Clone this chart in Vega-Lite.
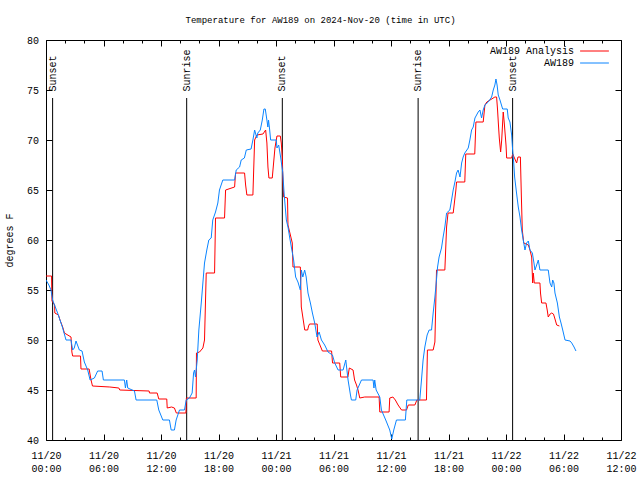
{
  "$schema": "https://vega.github.io/schema/vega-lite/v6.json",
  "width": 575,
  "height": 400,
  "autosize": {"type": "none"},
  "padding": {"left": 46, "top": 40, "right": 19, "bottom": 40},
  "title": {"text": "Temperature for AW189 on 2024-Nov-20 (time in UTC)", "fontSize": 9, "fontWeight": "normal", "font": "Liberation Mono", "color": "black", "offset": 10, "dx": -13},
  "config": {
    "view": {"stroke": "black", "strokeWidth": 1},
    "font": "Liberation Mono",
    "axis": {"domain": false, "labelFont": "Liberation Mono", "labelFontSize": 10, "labelColor": "black", "tickColor": "black", "titleFont": "Liberation Mono", "titleFontSize": 10, "titleFontWeight": "normal", "titleColor": "black", "grid": false}
  },
  "datasets": {
    "events": [
      {"h": 0.69, "label": "Sunset"},
      {"h": 14.68, "label": "Sunrise"},
      {"h": 24.66, "label": "Sunset"},
      {"h": 38.83, "label": "Sunrise"},
      {"h": 48.69, "label": "Sunset"}
    ],
    "analysis": [
      {"h":0,"t":56.4},{"h":0.58,"t":56.4},{"h":0.62,"t":53.9},{"h":0.9,"t":53.5},{"h":0.92,"t":52.7},{"h":1.3,"t":52.5},{"h":1.46,"t":52.0},{"h":1.74,"t":51.3},{"h":1.92,"t":50.7},{"h":2.61,"t":50.3},{"h":2.7,"t":48.8},{"h":2.78,"t":48.4},{"h":3.6,"t":48.4},{"h":3.65,"t":47.1},{"h":4.5,"t":47.1},{"h":4.7,"t":46.0},{"h":4.85,"t":45.4},{"h":6.66,"t":45.3},{"h":7.6,"t":45.2},{"h":7.7,"t":45.0},{"h":10.76,"t":44.9},{"h":10.8,"t":44.7},{"h":11.6,"t":44.7},{"h":11.77,"t":44.1},{"h":12.6,"t":44.1},{"h":12.65,"t":43.2},{"h":13.1,"t":43.3},{"h":13.4,"t":43.2},{"h":13.6,"t":42.7},{"h":14.6,"t":42.7},{"h":14.65,"t":44.2},{"h":15.67,"t":44.2},{"h":15.7,"t":48.7},{"h":16.02,"t":48.8},{"h":16.37,"t":49.2},{"h":16.54,"t":50.0},{"h":16.72,"t":56.7},{"h":17.59,"t":56.7},{"h":17.69,"t":62.2},{"h":18.63,"t":62.2},{"h":18.74,"t":65.0},{"h":19.68,"t":65.3},{"h":19.78,"t":66.7},{"h":20.72,"t":66.7},{"h":20.83,"t":65.5},{"h":20.96,"t":64.5},{"h":21.59,"t":64.5},{"h":21.77,"t":70.0},{"h":22.0,"t":70.5},{"h":22.64,"t":70.6},{"h":22.92,"t":71.0},{"h":23.05,"t":69.7},{"h":23.16,"t":67.3},{"h":23.26,"t":66.2},{"h":23.61,"t":66.2},{"h":23.75,"t":67.7},{"h":23.89,"t":69.2},{"h":24.1,"t":70.4},{"h":24.45,"t":70.4},{"h":24.55,"t":69.7},{"h":24.66,"t":68.3},{"h":24.73,"t":65.7},{"h":24.8,"t":64.3},{"h":25.2,"t":64.2},{"h":25.25,"t":61.5},{"h":25.5,"t":60.5},{"h":25.7,"t":59.7},{"h":25.77,"t":57.3},{"h":26.54,"t":57.3},{"h":26.64,"t":53.3},{"h":27.0,"t":51.0},{"h":27.3,"t":51.0},{"h":27.4,"t":51.4},{"h":27.5,"t":51.6},{"h":28.3,"t":51.6},{"h":28.37,"t":50.0},{"h":28.84,"t":48.9},{"h":29.8,"t":48.9},{"h":29.9,"t":47.7},{"h":30.65,"t":47.7},{"h":30.75,"t":46.3},{"h":31.5,"t":46.3},{"h":31.65,"t":47.2},{"h":32.04,"t":47.0},{"h":32.2,"t":46.0},{"h":32.4,"t":45.5},{"h":32.56,"t":45.0},{"h":32.74,"t":44.2},{"h":33.26,"t":44.3},{"h":34.76,"t":44.3},{"h":34.83,"t":42.8},{"h":35.8,"t":42.8},{"h":35.87,"t":44.2},{"h":36.2,"t":44.3},{"h":36.45,"t":44.0},{"h":36.74,"t":43.5},{"h":37.1,"t":43.0},{"h":37.62,"t":43.0},{"h":37.8,"t":43.5},{"h":38.49,"t":43.5},{"h":38.7,"t":44.0},{"h":39.7,"t":44.0},{"h":39.8,"t":49.0},{"h":40.4,"t":49.0},{"h":40.58,"t":49.8},{"h":40.75,"t":57.0},{"h":41.62,"t":57.0},{"h":41.8,"t":61.3},{"h":41.95,"t":62.7},{"h":42.49,"t":62.7},{"h":42.77,"t":65.0},{"h":42.84,"t":65.8},{"h":43.7,"t":65.8},{"h":43.8,"t":68.6},{"h":44.74,"t":68.6},{"h":44.86,"t":71.8},{"h":45.62,"t":71.8},{"h":45.8,"t":73.5},{"h":46.0,"t":73.8},{"h":46.84,"t":74.3},{"h":47.02,"t":74.3},{"h":47.12,"t":73.0},{"h":47.2,"t":71.7},{"h":47.3,"t":70.2},{"h":47.44,"t":68.8},{"h":47.55,"t":70.0},{"h":47.71,"t":72.8},{"h":47.82,"t":71.7},{"h":48.0,"t":69.5},{"h":48.07,"t":68.2},{"h":48.59,"t":68.2},{"h":48.7,"t":68.6},{"h":49.11,"t":67.7},{"h":49.25,"t":68.3},{"h":49.5,"t":68.3},{"h":49.6,"t":64.5},{"h":49.7,"t":61.0},{"h":49.85,"t":59.7},{"h":50.33,"t":59.5},{"h":50.5,"t":59.0},{"h":50.68,"t":58.3},{"h":50.78,"t":55.7},{"h":50.85,"t":56.7},{"h":50.95,"t":55.7},{"h":51.54,"t":55.7},{"h":51.6,"t":54.7},{"h":51.72,"t":53.7},{"h":52.17,"t":53.7},{"h":52.3,"t":53.0},{"h":52.41,"t":52.3},{"h":52.6,"t":52.6},{"h":52.77,"t":52.7},{"h":52.95,"t":52.6},{"h":53.05,"t":52.3},{"h":53.29,"t":51.5},{"h":53.57,"t":51.4}
    ],
    "obs": [
      {"h":0,"t":56.0},{"h":0.3,"t":55.5},{"h":0.52,"t":55.0},{"h":0.69,"t":54.0},{"h":0.97,"t":53.3},{"h":1.21,"t":52.7},{"h":1.46,"t":52.0},{"h":1.74,"t":51.2},{"h":2.09,"t":50.0},{"h":2.61,"t":50.0},{"h":2.78,"t":49.0},{"h":2.95,"t":49.2},{"h":3.13,"t":49.9},{"h":3.48,"t":49.0},{"h":3.76,"t":48.9},{"h":4.0,"t":47.8},{"h":4.35,"t":47.0},{"h":4.6,"t":46.0},{"h":5.05,"t":46.2},{"h":5.39,"t":46.9},{"h":5.85,"t":46.9},{"h":5.99,"t":46.0},{"h":8.18,"t":46.0},{"h":8.29,"t":45.2},{"h":8.42,"t":46.0},{"h":8.53,"t":45.2},{"h":9.23,"t":44.9},{"h":9.4,"t":44.0},{"h":11.56,"t":44.0},{"h":11.77,"t":43.0},{"h":12.19,"t":42.0},{"h":12.88,"t":42.0},{"h":13.06,"t":41.0},{"h":13.4,"t":41.0},{"h":13.58,"t":42.0},{"h":13.93,"t":43.0},{"h":14.45,"t":43.0},{"h":14.63,"t":44.0},{"h":14.97,"t":44.2},{"h":15.25,"t":44.7},{"h":15.4,"t":46.7},{"h":15.5,"t":47.0},{"h":15.6,"t":46.3},{"h":15.78,"t":48.0},{"h":15.95,"t":51.0},{"h":16.2,"t":53.7},{"h":16.37,"t":55.7},{"h":16.54,"t":57.7},{"h":16.78,"t":59.0},{"h":16.99,"t":60.0},{"h":17.24,"t":60.2},{"h":17.4,"t":62.0},{"h":17.69,"t":62.8},{"h":17.93,"t":63.7},{"h":18.1,"t":65.0},{"h":18.45,"t":66.0},{"h":19.68,"t":66.0},{"h":19.85,"t":67.0},{"h":20.2,"t":67.3},{"h":20.37,"t":68.0},{"h":20.7,"t":68.2},{"h":20.9,"t":69.0},{"h":21.4,"t":69.1},{"h":21.59,"t":70.0},{"h":21.77,"t":71.0},{"h":22.0,"t":70.2},{"h":22.1,"t":70.7},{"h":22.36,"t":71.0},{"h":22.57,"t":72.0},{"h":22.74,"t":73.1},{"h":22.88,"t":73.1},{"h":23.05,"t":72.0},{"h":23.15,"t":71.3},{"h":23.22,"t":72.0},{"h":23.33,"t":71.1},{"h":23.44,"t":70.0},{"h":24.03,"t":70.0},{"h":24.1,"t":69.2},{"h":24.28,"t":69.5},{"h":24.48,"t":68.3},{"h":24.7,"t":66.8},{"h":24.85,"t":64.6},{"h":25.08,"t":62.0},{"h":25.25,"t":61.3},{"h":25.42,"t":60.3},{"h":25.6,"t":59.3},{"h":25.84,"t":58.0},{"h":26.05,"t":56.3},{"h":26.29,"t":55.8},{"h":26.54,"t":55.0},{"h":26.64,"t":57.0},{"h":26.8,"t":56.3},{"h":26.99,"t":57.0},{"h":27.15,"t":56.3},{"h":27.34,"t":54.7},{"h":27.59,"t":53.7},{"h":27.8,"t":52.7},{"h":28.04,"t":51.7},{"h":28.28,"t":50.3},{"h":28.5,"t":50.8},{"h":28.74,"t":50.0},{"h":29.08,"t":49.5},{"h":29.43,"t":48.8},{"h":29.89,"t":48.5},{"h":30.13,"t":47.7},{"h":30.48,"t":47.0},{"h":31.0,"t":47.0},{"h":31.28,"t":48.0},{"h":31.52,"t":46.0},{"h":31.77,"t":44.5},{"h":31.87,"t":44.0},{"h":32.32,"t":44.0},{"h":32.46,"t":45.0},{"h":32.92,"t":46.0},{"h":34.13,"t":46.0},{"h":34.22,"t":45.2},{"h":34.3,"t":46.0},{"h":34.45,"t":45.0},{"h":34.83,"t":44.3},{"h":35.0,"t":43.0},{"h":35.45,"t":42.0},{"h":35.87,"t":41.0},{"h":36.08,"t":40.1},{"h":36.29,"t":41.0},{"h":36.57,"t":42.0},{"h":37.5,"t":42.0},{"h":37.65,"t":44.0},{"h":39.0,"t":44.0},{"h":39.18,"t":46.0},{"h":39.35,"t":48.0},{"h":39.53,"t":49.3},{"h":39.77,"t":50.5},{"h":39.98,"t":51.0},{"h":40.23,"t":51.0},{"h":40.4,"t":52.7},{"h":40.58,"t":54.3},{"h":40.68,"t":55.3},{"h":40.86,"t":57.3},{"h":41.02,"t":58.3},{"h":41.27,"t":59.2},{"h":41.44,"t":60.3},{"h":41.62,"t":61.3},{"h":41.8,"t":62.7},{"h":42.14,"t":63.0},{"h":42.32,"t":64.0},{"h":42.49,"t":65.0},{"h":42.67,"t":65.8},{"h":42.84,"t":66.7},{"h":43.0,"t":67.0},{"h":43.2,"t":66.3},{"h":43.37,"t":67.7},{"h":43.53,"t":68.3},{"h":43.7,"t":68.7},{"h":44.06,"t":69.2},{"h":44.23,"t":70.0},{"h":44.41,"t":71.0},{"h":44.58,"t":71.3},{"h":44.76,"t":72.2},{"h":45.1,"t":72.8},{"h":45.28,"t":73.0},{"h":45.45,"t":72.2},{"h":45.62,"t":73.0},{"h":45.8,"t":73.5},{"h":46.15,"t":73.8},{"h":46.5,"t":74.3},{"h":46.67,"t":75.0},{"h":46.84,"t":75.5},{"h":46.95,"t":76.1},{"h":47.07,"t":75.5},{"h":47.19,"t":74.5},{"h":47.37,"t":74.0},{"h":47.65,"t":73.1},{"h":48.13,"t":73.1},{"h":48.23,"t":72.2},{"h":48.41,"t":71.8},{"h":48.59,"t":70.5},{"h":48.69,"t":69.0},{"h":48.8,"t":67.8},{"h":48.9,"t":66.3},{"h":49.1,"t":64.7},{"h":49.28,"t":63.3},{"h":49.46,"t":62.3},{"h":49.63,"t":61.0},{"h":49.8,"t":60.0},{"h":49.98,"t":59.0},{"h":50.15,"t":59.7},{"h":50.33,"t":59.9},{"h":50.5,"t":59.0},{"h":50.75,"t":58.7},{"h":50.92,"t":57.7},{"h":51.02,"t":57.0},{"h":51.2,"t":57.5},{"h":51.37,"t":58.0},{"h":51.54,"t":57.0},{"h":52.41,"t":57.0},{"h":52.59,"t":55.7},{"h":52.77,"t":55.3},{"h":52.87,"t":56.0},{"h":53.0,"t":55.7},{"h":53.11,"t":54.7},{"h":53.36,"t":53.7},{"h":53.57,"t":52.3},{"h":53.74,"t":51.7},{"h":53.92,"t":51.0},{"h":54.16,"t":50.0},{"h":54.68,"t":49.9},{"h":54.86,"t":49.7},{"h":55.1,"t":49.3},{"h":55.3,"t":48.9}
    ]
  },
  "layer": [
    {
      "data": {"name": "events"},
      "mark": {"type": "rule", "color": "black", "strokeWidth": 1},
      "encoding": {
        "x": {"field": "h", "type": "quantitative", "axis": null},
        "y": {"datum": 74.2, "type": "quantitative", "axis": null},
        "y2": {"datum": 40}
      }
    },
    {
      "data": {"name": "events"},
      "mark": {"type": "text", "angle": 270, "align": "left", "baseline": "middle", "fontSize": 10, "font": "Liberation Mono", "color": "black"},
      "encoding": {
        "x": {"field": "h", "type": "quantitative", "axis": null},
        "y": {"datum": 74.85, "type": "quantitative", "axis": null},
        "text": {"field": "label"}
      }
    },
    {
      "data": {"name": "analysis"},
      "mark": {"type": "line", "strokeWidth": 1, "clip": true},
      "encoding": {
        "x": {"field": "h", "type": "quantitative", "scale": {"domain": [0, 60], "nice": false, "zero": false},
          "axis": {"orient": "bottom", "title": null, "values": [0,2,4,6,8,10,12,14,16,18,20,22,24,26,28,30,32,34,36,38,40,42,44,46,48,50,52,54,56,58,60],
            "tickSize": {"expr": "datum.value % 6 === 0 ? -6 : -3"}, "labelPadding": 16, "labelLineHeight": 13, "labelOverlap": false, "labelFlush": false, "labelBound": false,
            "labelExpr": "datum.value % 6 === 0 ? ['11/' + (20 + floor(datum.value / 24)), ((datum.value % 24) < 10 ? '0' : '') + (datum.value % 24) + ':00'] : ''"}},
        "y": {"field": "t", "type": "quantitative", "scale": {"domain": [40, 80], "nice": false, "zero": false},
          "axis": {"orient": "left", "title": "degrees F", "values": [40,45,50,55,60,65,70,75,80], "tickSize": -6, "labelPadding": 13.5, "titlePadding": 12, "labelOverlap": false, "labelFlush": false}},
        "color": {"datum": "AW189 Analysis", "type": "nominal",
          "scale": {"domain": ["AW189 Analysis", "AW189"], "range": ["#ff0000", "#0a84ff"]},
          "legend": {"title": null, "orient": "none", "legendX": 542, "legendY": 4.5, "padding": 0, "symbolType": "M-2.4,0H2.4", "symbolSize": 144, "symbolStrokeWidth": 1, "labelAlign": "right", "labelOffset": -27, "labelFont": "Liberation Mono", "labelFontSize": 10, "labelColor": "black", "rowPadding": -1}}
      }
    },
    {
      "data": {"name": "obs"},
      "mark": {"type": "line", "strokeWidth": 1, "clip": true},
      "encoding": {
        "x": {"field": "h", "type": "quantitative",
          "axis": {"orient": "top", "title": null, "labels": false, "values": [0,2,4,6,8,10,12,14,16,18,20,22,24,26,28,30,32,34,36,38,40,42,44,46,48,50,52,54,56,58,60],
            "tickSize": {"expr": "datum.value % 6 === 0 ? -6 : -3"}}},
        "y": {"field": "t", "type": "quantitative",
          "axis": {"orient": "right", "title": null, "labels": false, "values": [40,45,50,55,60,65,70,75,80], "tickSize": -6}},
        "color": {"datum": "AW189", "type": "nominal"}
      }
    }
  ],
  "resolve": {"axis": {"x": "independent", "y": "independent"}}
}
